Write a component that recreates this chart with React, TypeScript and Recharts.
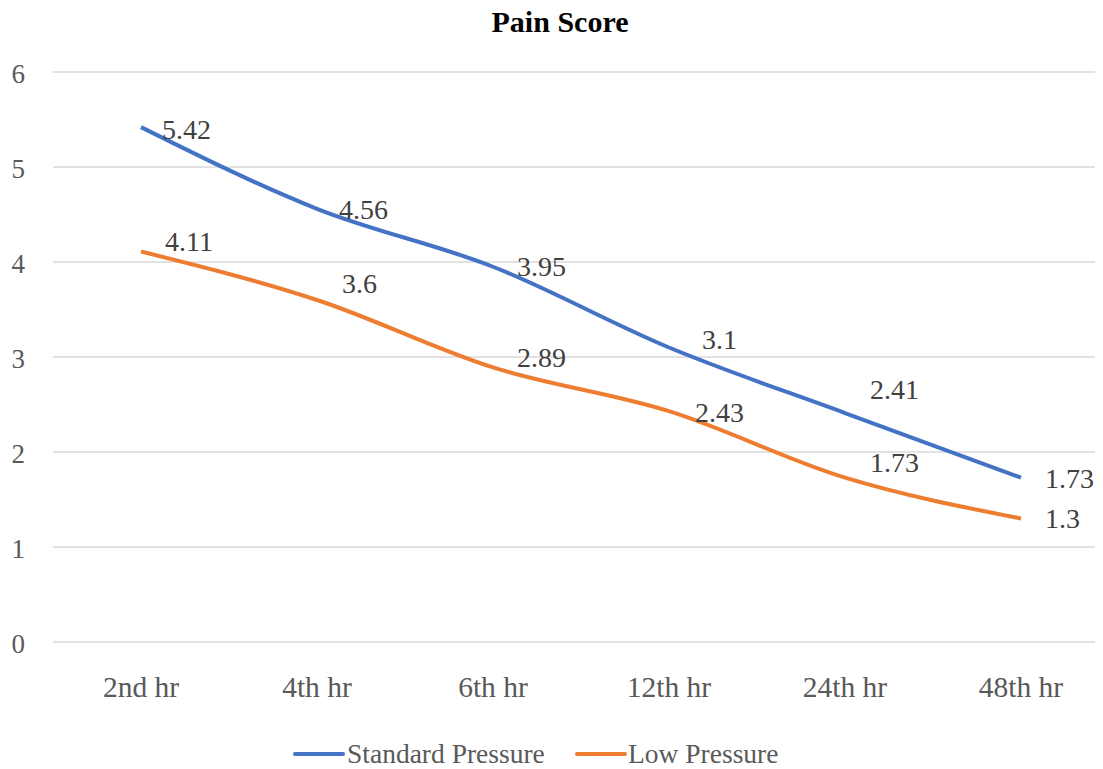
import React from "react";
import { LineChart, Line, XAxis, YAxis, CartesianGrid, LabelList } from "recharts";

const categories = ["2nd hr", "4th hr", "6th hr", "12th hr", "24th hr", "48th hr"];
const standardPressure = [5.42, 4.56, 3.95, 3.1, 2.41, 1.73];
const lowPressure = [4.11, 3.6, 2.89, 2.43, 1.73, 1.3];
const yTicks = [0, 1, 2, 3, 4, 5, 6];
const seriesNames = ["Standard Pressure", "Low Pressure"];
const title = "Pain Score";

// label offsets (style only)
const stdDx = [21, 22, 24, 33, 25, 24];
const stdDy = [2, 1, 0, -8, -24, 1];
const lowDx = [24, 25, 24, 26, 25, 24];
const lowDy = [-10, -17, -10, 1, -15, 0];

const data = categories.map((c, i) => ({
  name: c,
  standard: standardPressure[i],
  low: lowPressure[i],
}));

const FONT = "'Liberation Serif', 'Times New Roman', serif";
const BLUE = "#4472C4";
const ORANGE = "#ED7D31";
const GREY = "#595959";

const makeLabel = (dxs: number[], dys: number[]) => (props: any) => {
  const { x, y, index, value } = props;
  return (
    <text
      x={x + dxs[index]}
      y={y + dys[index]}
      dy="0.34em"
      textAnchor="start"
      fontFamily={FONT}
      fontSize={28}
      fill="#404040"
    >
      {value}
    </text>
  );
};

const XTick = (props: any) => {
  const { x, y, payload } = props;
  return (
    <text x={x} y={y + 55} textAnchor="middle" fontFamily={FONT} fontSize={29.5} fill={GREY}>
      {payload.value}
    </text>
  );
};

const YTick = (props: any) => {
  const { y, payload } = props;
  return (
    <text x={25} y={y + 11} textAnchor="end" fontFamily={FONT} fontSize={27} fill={GREY}>
      {payload.value}
    </text>
  );
};

export default function App() {
  return (
    <div style={{ position: "relative", width: 1103, height: 769, marginLeft: -8, marginTop: -8, background: "#fff", overflow: "hidden" }}>
      <LineChart
        width={1103}
        height={769}
        data={data}
        margin={{ top: 72, right: -6, bottom: 67, left: 0 }}
      >
        <CartesianGrid vertical={false} stroke="#d9d9d9" strokeWidth={1.5} />
        <XAxis
          dataKey="name"
          axisLine={false}
          tickLine={false}
          tickSize={0}
          tickMargin={0}
          height={60}
          padding={{ left: 88, right: 88 }}
          tick={<XTick />}
          interval={0}
        />
        <YAxis
          domain={[0, 6]}
          ticks={yTicks}
          axisLine={false}
          tickLine={false}
          tickSize={0}
          tickMargin={0}
          width={53}
          tick={<YTick />}
        />
        <Line
          type="monotone"
          dataKey="standard"
          name={seriesNames[0]}
          stroke={BLUE}
          strokeWidth={4}
          dot={false}
          isAnimationActive={false}
        >
          <LabelList dataKey="standard" content={makeLabel(stdDx, stdDy)} />
        </Line>
        <Line
          type="monotone"
          dataKey="low"
          name={seriesNames[1]}
          stroke={ORANGE}
          strokeWidth={4}
          dot={false}
          isAnimationActive={false}
        >
          <LabelList dataKey="low" content={makeLabel(lowDx, lowDy)} />
        </Line>
      </LineChart>
      <svg
        width={1103}
        height={769}
        style={{ position: "absolute", left: 0, top: 0, pointerEvents: "none" }}
      >
        <text x={560} y={32} textAnchor="middle" fontFamily={FONT} fontWeight="bold" fontSize={30} fill="#000">
          {title}
        </text>
        <line x1={295} y1={754} x2={343} y2={754} stroke={BLUE} strokeWidth={4} strokeLinecap="round" />
        <text x={347} y={763} fontFamily={FONT} fontSize={27.5} fill={GREY}>
          {seriesNames[0]}
        </text>
        <line x1={577} y1={754} x2={625} y2={754} stroke={ORANGE} strokeWidth={4} strokeLinecap="round" />
        <text x={628} y={763} fontFamily={FONT} fontSize={27.5} fill={GREY}>
          {seriesNames[1]}
        </text>
      </svg>
    </div>
  );
}
